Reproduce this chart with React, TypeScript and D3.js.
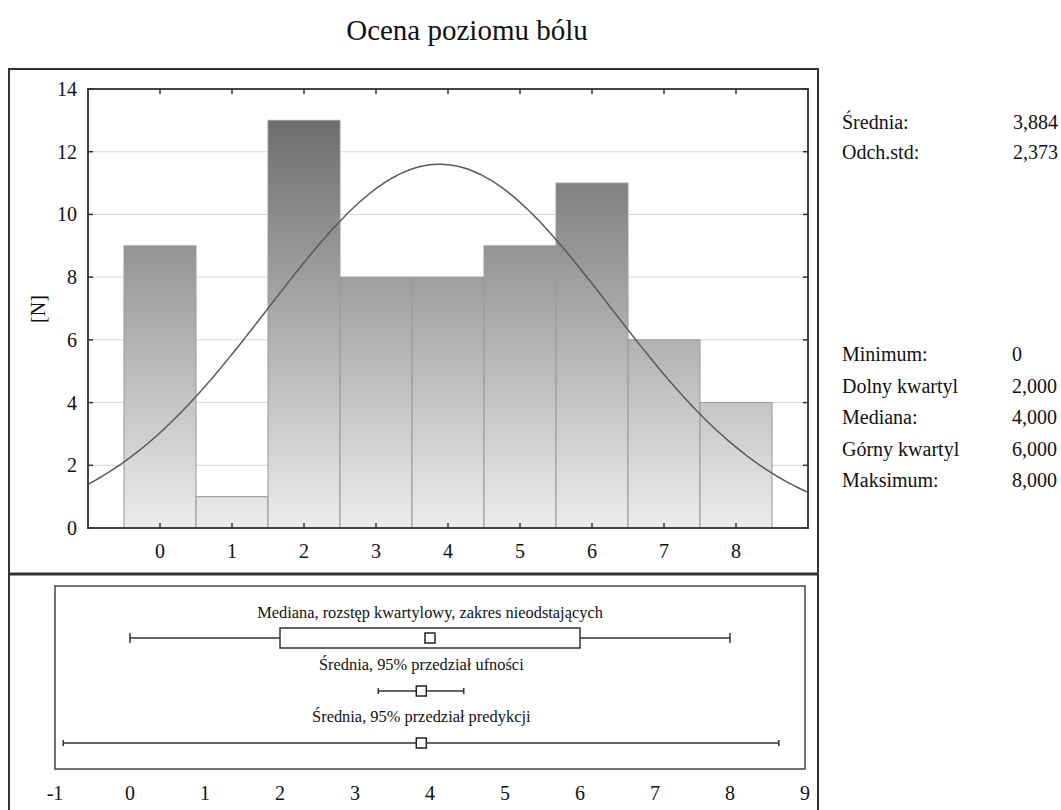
import React from "react";
import * as d3 from "d3";

const categories = [0, 1, 2, 3, 4, 5, 6, 7, 8];
const counts = [9, 1, 13, 8, 8, 9, 11, 6, 4];
const yTicks = [0, 2, 4, 6, 8, 10, 12, 14];
const xTicks = [0, 1, 2, 3, 4, 5, 6, 7, 8];
const boxTicks = [-1, 0, 1, 2, 3, 4, 5, 6, 7, 8, 9];

const mean = 3.884;
const sd = 2.373;

const statsTop = [
  { label: "Średnia:", value: "3,884" },
  { label: "Odch.std:", value: "2,373" },
];
const statsBottom = [
  { label: "Minimum:", value: "0" },
  { label: "Dolny kwartyl", value: "2,000" },
  { label: "Mediana:", value: "4,000" },
  { label: "Górny kwartyl", value: "6,000" },
  { label: "Maksimum:", value: "8,000" },
];

const boxStats = { min: 0, q1: 2, median: 4, q3: 6, max: 8 };
const ciInterval = [3.31, 4.45];
const predInterval = [-0.89, 8.65];

const boxLabels = [
  "Mediana, rozstęp kwartylowy, zakres nieodstających",
  "Średnia, 95% przedział ufności",
  "Średnia, 95% przedział predykcji",
];

const FONT = "'Liberation Serif', 'Times New Roman', serif";

export default function App() {
  const W = 1061;
  const H = 810;
  const pl = 88, pr = 808, pt = 89, pb = 528;
  const x = d3.scaleLinear().domain([-1, 9]).range([pl, pr]);
  const y = d3.scaleLinear().domain([0, 14]).range([pb, pt]);

  const N = d3.sum(counts);
  const pdf = (v: number) =>
    (N / (sd * Math.sqrt(2 * Math.PI))) * Math.exp(-0.5 * ((v - mean) / sd) ** 2);
  const curvePts = d3.range(-1, 9.0001, 0.05).map((v) => [v, pdf(v)] as [number, number]);
  const line = d3
    .line<[number, number]>()
    .x((d) => x(d[0]))
    .y((d) => y(d[1]))
    .curve(d3.curveLinear);

  const bl = 55, br = 805, bt = 586, bb = 769;
  const bx = d3.scaleLinear().domain([-1, 9]).range([bl, br]);
  const yBox = 638, yCI = 691, yPred = 743;
  const sq = 10;

  return (
    <svg
      width={W}
      height={H}
      style={{ position: "absolute", left: 0, top: 0, background: "#fff" }}
      fontFamily={FONT}
    >
      <defs>
        <linearGradient id="barGrad" gradientUnits="userSpaceOnUse" x1={0} y1={y(14)} x2={0} y2={y(0)}>
          <stop offset="0" stopColor="#636363" />
          <stop offset="1" stopColor="#ececec" />
        </linearGradient>
        <clipPath id="plotClip">
          <rect x={pl} y={pt} width={pr - pl} height={pb - pt} />
        </clipPath>
      </defs>

      {/* Title */}
      <text x={467} y={40} textAnchor="middle" fontSize={29} fill="#111">
        Ocena poziomu bólu
      </text>

      {/* Outer frame */}
      <line x1={9} y1={69} x2={818} y2={69} stroke="#333" strokeWidth={2} />
      <line x1={9} y1={68} x2={9} y2={H} stroke="#333" strokeWidth={2} />
      <line x1={818} y1={68} x2={818} y2={H} stroke="#333" strokeWidth={2} />
      <line x1={9} y1={574} x2={818} y2={574} stroke="#333" strokeWidth={3} />

      {/* Grid */}
      {yTicks.filter((t) => t > 0 && t < 14).map((t) => (
        <line key={"g" + t} x1={pl} x2={pr} y1={y(t)} y2={y(t)} stroke="#d8d8d8" strokeWidth={1} />
      ))}

      {/* Bars */}
      {categories.map((c, i) => (
        <rect
          key={"b" + c}
          x={x(c - 0.5)}
          y={y(counts[i])}
          width={x(c + 0.5) - x(c - 0.5)}
          height={y(0) - y(counts[i])}
          fill="url(#barGrad)"
          stroke="#9a9a9a"
          strokeWidth={1}
        />
      ))}

      {/* Normal curve */}
      <path d={line(curvePts) || ""} fill="none" stroke="#5a5a5a" strokeWidth={1.5} clipPath="url(#plotClip)" />

      {/* Plot frame */}
      <rect x={pl} y={pt} width={pr - pl} height={pb - pt} fill="none" stroke="#444" strokeWidth={2} />

      {/* Ticks */}
      {yTicks.map((t) => (
        <g key={"yt" + t}>
          <line x1={pl} x2={pl + 5} y1={y(t)} y2={y(t)} stroke="#333" strokeWidth={1.5} />
          <line x1={pr} x2={pr - 5} y1={y(t)} y2={y(t)} stroke="#333" strokeWidth={1.5} />
          <text x={77} y={y(t)} dy="0.35em" textAnchor="end" fontSize={20} fill="#111">
            {t}
          </text>
        </g>
      ))}
      {xTicks.map((t) => (
        <g key={"xt" + t}>
          <line x1={x(t)} x2={x(t)} y1={pb} y2={pb - 5} stroke="#333" strokeWidth={1.5} />
          <line x1={x(t)} x2={x(t)} y1={pt} y2={pt + 5} stroke="#333" strokeWidth={1.5} />
          <text x={x(t)} y={558} textAnchor="middle" fontSize={20} fill="#111">
            {t}
          </text>
        </g>
      ))}

      {/* Y label */}
      <text
        transform={`translate(45, 309) rotate(-90)`}
        textAnchor="middle"
        fontSize={20}
        fill="#111"
      >
        [N]
      </text>

      {/* Stats */}
      {statsTop.map((s, i) => (
        <g key={"st" + i}>
          <text x={842} y={129 + i * 30} fontSize={20} fill="#111">{s.label}</text>
          <text x={1058} y={129 + i * 30} fontSize={20} textAnchor="end" fill="#111">{s.value}</text>
        </g>
      ))}
      {statsBottom.map((s, i) => (
        <g key={"sb" + i}>
          <text x={842} y={361 + i * 31.5} fontSize={20} fill="#111">{s.label}</text>
          <text x={1012} y={361 + i * 31.5} fontSize={20} fill="#111">{s.value}</text>
        </g>
      ))}

      {/* Box panel */}
      <rect x={bl} y={bt} width={br - bl} height={bb - bt} fill="none" stroke="#444" strokeWidth={1.5} />

      <text x={bx(boxStats.median)} y={618} textAnchor="middle" fontSize={16.4} fill="#111">{boxLabels[0]}</text>
      <line x1={bx(boxStats.min)} x2={bx(boxStats.q1)} y1={yBox} y2={yBox} stroke="#333" strokeWidth={1.5} />
      <line x1={bx(boxStats.q3)} x2={bx(boxStats.max)} y1={yBox} y2={yBox} stroke="#333" strokeWidth={1.5} />
      <line x1={bx(boxStats.min)} x2={bx(boxStats.min)} y1={yBox - 5} y2={yBox + 5} stroke="#333" strokeWidth={1.5} />
      <line x1={bx(boxStats.max)} x2={bx(boxStats.max)} y1={yBox - 5} y2={yBox + 5} stroke="#333" strokeWidth={1.5} />
      <rect x={bx(boxStats.q1)} y={yBox - 10} width={bx(boxStats.q3) - bx(boxStats.q1)} height={20} fill="#fff" stroke="#333" strokeWidth={1.5} />
      <rect x={bx(boxStats.median) - sq / 2} y={yBox - sq / 2} width={sq} height={sq} fill="#fff" stroke="#222" strokeWidth={1.5} />

      <text x={bx(mean)} y={670} textAnchor="middle" fontSize={16.4} fill="#111">{boxLabels[1]}</text>
      <line x1={bx(ciInterval[0])} x2={bx(ciInterval[1])} y1={yCI} y2={yCI} stroke="#333" strokeWidth={1.5} />
      <line x1={bx(ciInterval[0])} x2={bx(ciInterval[0])} y1={yCI - 3} y2={yCI + 3} stroke="#333" strokeWidth={1.5} />
      <line x1={bx(ciInterval[1])} x2={bx(ciInterval[1])} y1={yCI - 3} y2={yCI + 3} stroke="#333" strokeWidth={1.5} />
      <rect x={bx(mean) - sq / 2} y={yCI - sq / 2} width={sq} height={sq} fill="#fff" stroke="#222" strokeWidth={1.5} />

      <text x={bx(mean)} y={722} textAnchor="middle" fontSize={16.4} fill="#111">{boxLabels[2]}</text>
      <line x1={bx(predInterval[0])} x2={bx(predInterval[1])} y1={yPred} y2={yPred} stroke="#333" strokeWidth={1.5} />
      <line x1={bx(predInterval[0])} x2={bx(predInterval[0])} y1={yPred - 3} y2={yPred + 3} stroke="#333" strokeWidth={1.5} />
      <line x1={bx(predInterval[1])} x2={bx(predInterval[1])} y1={yPred - 3} y2={yPred + 3} stroke="#333" strokeWidth={1.5} />
      <rect x={bx(mean) - sq / 2} y={yPred - sq / 2} width={sq} height={sq} fill="#fff" stroke="#222" strokeWidth={1.5} />

      {boxTicks.map((t) => (
        <text key={"bt" + t} x={bx(t)} y={800} textAnchor="middle" fontSize={20} fill="#111">
          {t}
        </text>
      ))}
    </svg>
  );
}
